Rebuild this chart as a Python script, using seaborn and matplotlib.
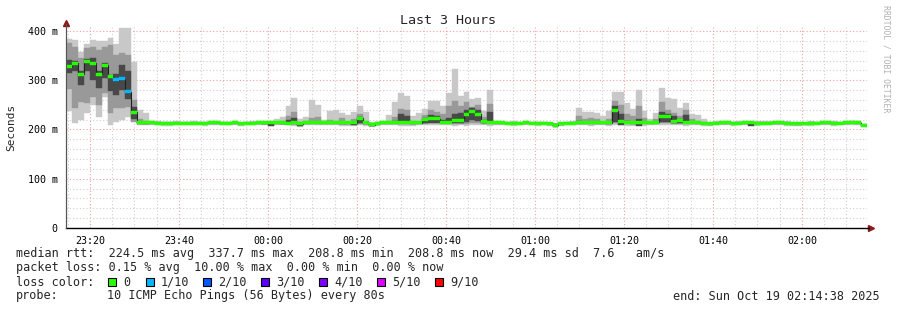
import numpy as np
import pandas as pd
import matplotlib
matplotlib.use("Agg")
import matplotlib.pyplot as plt
from matplotlib.patches import Rectangle
from matplotlib.lines import Line2D
from matplotlib.ticker import FixedLocator
import seaborn as sns

# ---------------- data (ms, one entry per 80 s step) ----------------
start_time = "23:14:38"
step_seconds = 80

median_ms = [327,334,312,338,334,312,330,308,301,303,277,235,215,214,
             214,213,213,213,213,213,213,213,213,213,214,214,213,213,214,212,213,213,214,214,214,214,214,213,215,212,
             214,215,214,214,214,214,214,214,214,223,214,210,213,214,214,214,214,214,214,214,221,223,222,215,215,219,219,231,236,231,217,215,
             214,214,213,213,213,214,213,213,213,212,209,212,213,213,214,214,214,214,214,214,238,216,215,215,215,215,214,215,
             227,227,216,219,215,215,214,213,212,213,214,214,213,213,214,214,213,213,213,214,214,213,212,212,212,213,213,214,214,213,213,214,215,214,209]

ping_max = [384,381,358,373,382,380,379,385,373,405,405,336,240,233,
            217,218,216,216,217,216,216,217,216,216,217,217,216,216,217,216,216,217,217,217,218,222,226,248,264,222,
            225,260,250,219,237,239,233,229,235,248,235,215,216,217,229,256,275,268,227,233,241,258,258,248,275,322,268,276,261,264,238,280,
            217,216,216,217,216,217,216,216,216,215,213,215,216,218,243,236,236,234,227,238,276,276,254,242,280,238,221,234,
            284,264,261,244,254,231,229,221,216,217,217,218,216,217,217,216,217,218,217,216,217,217,216,216,215,217,216,217,218,217,216,217,218,217,212]

ping_min = [238,214,219,233,250,226,265,209,216,219,226,219,209,209,
            210,209,207,208,209,209,209,209,209,208,209,210,209,209,209,208,209,209,209,209,207,209,209,209,208,206,
            209,209,209,209,209,209,208,208,207,209,208,206,207,209,209,209,208,208,207,209,209,210,209,209,209,208,209,208,210,209,209,208,
            209,209,209,208,209,209,209,208,209,208,205,208,209,209,209,209,208,209,209,208,209,209,208,207,209,208,209,209,
            210,209,209,209,208,209,209,208,208,209,209,209,208,209,209,209,208,209,209,209,209,208,208,208,209,208,209,209,209,208,209,209,209,209,206]

mid_hi = [375,368,345,365,368,362,368,372,351,355,351,260,222,218,
          216,216,215,215,215,215,215,215,215,215,216,216,215,215,216,214,215,215,216,216,216,216,218,228,236,216,
          218,223,226,216,219,218,224,216,222,232,216,212,215,216,218,226,242,240,218,216,230,240,236,232,248,258,248,255,245,250,226,252,
          216,216,215,215,215,216,215,215,215,214,211,214,215,215,228,222,224,222,216,222,258,250,232,228,248,224,216,222,
          255,240,234,228,240,222,218,215,214,215,216,216,215,215,216,216,215,215,215,216,216,215,214,214,214,215,215,216,216,215,215,216,217,216,211]

mid_lo = [282,243,256,253,266,250,274,233,243,243,246,216,211,211,
          212,211,211,211,211,211,211,211,211,211,212,212,211,211,212,210,211,211,212,211,210,212,212,212,212,209,
          212,212,212,212,212,212,211,211,210,212,211,208,210,212,212,212,211,211,211,212,212,213,213,212,212,212,211,212,214,214,212,212,
          212,212,211,211,211,212,211,211,211,210,207,210,211,211,212,212,212,212,212,211,214,212,212,211,212,212,212,212,
          213,213,212,212,212,212,212,211,210,211,212,212,211,211,212,212,211,211,211,212,212,211,210,210,210,211,211,212,212,211,211,212,213,212,207]

dark_hi = [342,340,318,343,345,318,335,311,312,330,318,245,216,215,
           215,214,214,214,214,214,214,214,214,214,215,215,214,214,215,213,214,214,215,215,215,215,215,220,224,213,
           215,216,215,215,215,215,216,215,215,226,215,211,214,215,215,218,232,228,215,215,224,230,228,220,224,232,234,240,243,240,220,236,
           215,215,214,214,214,215,214,214,214,213,211,213,214,214,218,215,216,215,215,215,248,232,218,216,222,216,215,216,
           236,232,228,222,230,216,215,214,213,214,215,215,214,214,215,215,214,214,214,215,215,214,213,213,213,214,214,215,215,214,214,215,216,215,210]

dark_lo = [315,318,290,318,300,285,305,278,270,280,262,222,212,212,
           213,212,212,212,212,212,212,212,212,212,213,213,212,212,213,211,212,212,213,212,208,213,212,211,211,208,
           213,213,213,213,213,213,212,212,209,214,212,207,211,213,213,213,213,213,212,213,214,214,214,213,213,213,213,216,220,218,213,213,
           213,213,212,212,212,213,212,212,212,211,206,211,212,212,213,213,213,213,213,212,215,210,213,212,208,213,213,213,
           215,215,213,213,213,213,213,212,211,212,213,213,212,212,213,208,212,212,212,213,213,212,211,211,211,212,212,213,213,212,212,213,214,213,208]

lost_pings = [0,0,0,0,0,0,0,0,1,1,1,0,0,0]
lost_pings = lost_pings + [0 for _ in range(len(median_ms) - len(lost_pings))]

loss_levels = [0, 1, 2, 3, 4, 5, 9]
loss_labels = ["0", "1/10", "2/10", "3/10", "4/10", "5/10", "9/10"]
loss_colors = ["#26ff00", "#00b8ff", "#0059ff", "#5e00ff", "#7e00ff", "#dd00ff", "#ff0000"]

x_tick_labels = ["23:20", "23:40", "00:00", "00:20", "00:40", "01:00", "01:20", "01:40", "02:00"]
y_ticks = [0, 100, 200, 300, 400]
y_tick_labels = ["0", "100 m", "200 m", "300 m", "400 m"]

title = "Last 3 Hours"
stat_lines = [
    "median rtt:  224.5 ms avg  337.7 ms max  208.8 ms min  208.8 ms now  29.4 ms sd  7.6   am/s",
    "packet loss: 0.15 % avg  10.00 % max  0.00 % min  0.00 % now",
]
probe_text = "10 ICMP Echo Pings (56 Bytes) every 80s"
end_text = "end: Sun Oct 19 02:14:38 2025"

# ---------------- figure ----------------
sns.set_theme(style="white")
plt.rcParams["font.family"] = ["DejaVu Sans Mono"]

W, H = 897, 310
fig = plt.figure(figsize=(W / 100, H / 100), dpi=100)
fig.patch.set_facecolor("white")

L, R, T, B = 66, 867, 27, 228
ax = fig.add_axes([L / W, 1 - B / H, (R - L) / W, (B - T) / H])
ax.set_facecolor("white")

step_min = step_seconds / 60
n = len(median_ms)
xs = np.arange(n) * step_min
df = pd.DataFrame({
    "t": xs, "med": median_ms, "pmin": ping_min, "pmax": ping_max,
    "mlo": mid_lo, "mhi": mid_hi, "dlo": dark_lo, "dhi": dark_hi, "loss": lost_pings,
})

def bars(lo, hi, color, z):
    ax.bar(df["t"], np.array(hi) - np.array(lo), bottom=lo, width=step_min, align="edge",
           color=color, edgecolor=color, linewidth=0.3, zorder=z)

bars(df["pmin"], df["pmax"], "#c8c8c8", 2)
bars(df["mlo"], df["mhi"], "#999999", 3)
bars(df["dlo"], df["dhi"], "#484848", 4)

# median black step line
line_df = pd.DataFrame({"t": np.append(xs, xs[-1] + step_min),
                        "med": np.append(df["med"].values, df["med"].values[-1])})
sns.lineplot(data=line_df, x="t", y="med", drawstyle="steps-post", color="#202020",
             linewidth=0.8, ax=ax, zorder=5)

# colored median markers by loss
col_map = dict(zip(loss_levels, loss_colors))
mcols = [col_map.get(v, "#ff0000") for v in df["loss"]]
ax.bar(df["t"], 6, bottom=df["med"] - 3, width=step_min, align="edge",
       color=mcols, edgecolor=mcols, linewidth=0.3, zorder=6)

# axes / grid
h0, m0, s0 = [int(v) for v in start_time.split(":")]
start_min = h0 * 60 + m0 + s0 / 60
def tmin(lbl):
    h, m = [int(v) for v in lbl.split(":")]
    return ((h * 60 + m) - start_min) % 1440

total = n * step_min
xt = [tmin(l) for l in x_tick_labels]
first5 = (5 - (start_min % 5)) % 5
xminor = list(np.arange(first5, total, 5))
ax.set_xlim(0, 180)
ax.set_ylim(0, 408)
ax.xaxis.set_major_locator(FixedLocator(xt))
ax.set_xticklabels(x_tick_labels)
ax.xaxis.set_minor_locator(FixedLocator(xminor))
ax.yaxis.set_major_locator(FixedLocator(y_ticks))
ax.set_yticklabels(y_tick_labels)
ax.yaxis.set_minor_locator(FixedLocator(list(range(20, 408, 20))))

ax.set_axisbelow(True)
ax.grid(which="minor", color="#cfcfcf", linestyle=(0, (1, 2)), linewidth=0.8)
ax.grid(which="major", color="#f0a0a0", linestyle=(0, (1, 2)), linewidth=0.8)

for s in ["top", "right"]:
    ax.spines[s].set_visible(False)
ax.spines["left"].set_color("#555555")
ax.spines["left"].set_linewidth(0.8)
ax.spines["bottom"].set_color("#000000")
ax.spines["bottom"].set_linewidth(1.0)
ax.tick_params(axis="both", which="major", length=2, width=0.6, color="#777777",
               labelsize=7.2, pad=4, labelcolor="#000000")
ax.tick_params(axis="both", which="minor", length=1.5, width=0.5, color="#999999")
ax.set_xlabel("")
ax.set_ylabel("Seconds", fontsize=8, labelpad=8)

# arrows
fig.add_artist(Line2D([L / W], [1 - 23 / H], marker="^", markersize=4, color="#8b1a1a",
                      transform=fig.transFigure))
fig.add_artist(Line2D([L / W, L / W], [1 - B / H, 1 - 24 / H], color="#555555", lw=0.8,
                      transform=fig.transFigure))
fig.add_artist(Line2D([871 / W], [1 - B / H], marker=">", markersize=4, color="#8b1a1a",
                      transform=fig.transFigure))
fig.add_artist(Line2D([R / W, 869 / W], [1 - B / H, 1 - B / H], color="#000000", lw=1.0,
                      transform=fig.transFigure))

def ftext(x, y, s, **kw):
    fig.text(x / W, 1 - y / H, s, **kw)

ftext(448, 20, title, ha="center", va="center", fontsize=9.6)
ftext(886, 5, "RRDTOOL / TOBI OETIKER", ha="center", va="top", rotation=270,
      fontsize=5.9, color="#b0b0b0")

fs = 8.5
ftext(16, 254, stat_lines[0], ha="left", va="center", fontsize=fs)
ftext(16, 268, stat_lines[1], ha="left", va="center", fontsize=fs)
ftext(16, 282, "loss color:", ha="left", va="center", fontsize=fs)
box_x = [108, 146, 203, 261, 319, 377, 435]
for bx, lbl, c in zip(box_x, loss_labels, loss_colors):
    fig.add_artist(Rectangle((bx / W, 1 - 286 / H), 8 / W, 8 / H, facecolor=c,
                             edgecolor="black", linewidth=0.8, transform=fig.transFigure))
    ftext(bx + 15, 282, lbl, ha="left", va="center", fontsize=fs)
ftext(16, 296, "probe:", ha="left", va="center", fontsize=fs)
ftext(107, 296, probe_text, ha="left", va="center", fontsize=fs)
ftext(880, 296, end_text, ha="right", va="center", fontsize=fs)

fig.savefig("out.png", dpi=100, facecolor="white")
